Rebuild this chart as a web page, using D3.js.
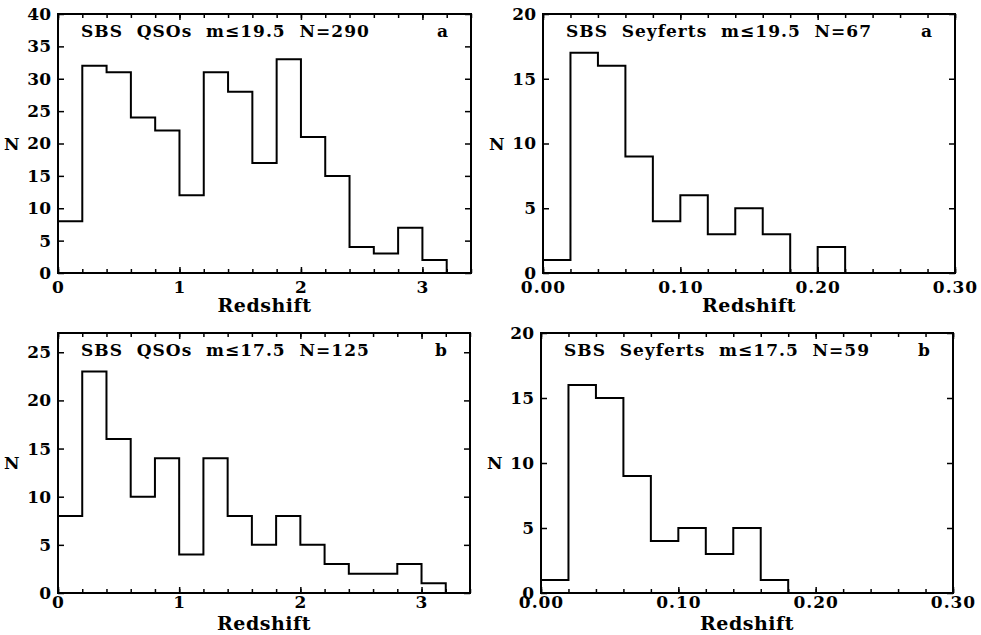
<!DOCTYPE html>
<html>
<head>
<meta charset="utf-8">
<script src="https://cdn.jsdelivr.net/npm/d3@7"></script>
<style>
  body { margin: 0; background: #fff; }
  svg { display: block; }
  text { font-family: "DejaVu Serif", "Liberation Serif", serif; font-weight: bold; fill: #000; }
  .domain { display: none; }
  .tick line { stroke: #000; stroke-width: 1.5; }
</style>
</head>
<body>
<svg width="981" height="635"></svg>
<script>
// bin counts (bins of 0.2 in z for QSOs, 0.02 for Seyferts)
var qsoBinWidth = 0.2;
var seyBinWidth = 0.02;
var qso195 = [8, 32, 31, 24, 22, 12, 31, 28, 17, 33, 21, 15, 4, 3, 7, 2];
var qso175 = [8, 23, 16, 10, 14, 4, 14, 8, 5, 8, 5, 3, 2, 2, 3, 1];
var sey195 = [1, 17, 16, 9, 4, 6, 3, 5, 3, 0, 2];
var sey175 = [1, 16, 15, 9, 4, 5, 3, 5, 1];

var qsoXTicks = [0, 1, 2, 3];
var seyXTicks = [0, 0.1, 0.2, 0.3];

var titles = ["SBS  QSOs  m\u226419.5  N=290", "SBS  Seyferts  m\u226419.5  N=67",
              "SBS  QSOs  m\u226417.5  N=125", "SBS  Seyferts  m\u226417.5  N=59"];
var tags = ["a", "a", "b", "b"];

var svg = d3.select("svg");

var panels = [
  {counts: qso195, bw: qsoBinWidth, xmax: 3.4, ymax: 40, xt: qsoXTicks, fmt: d3.format("d"), minor: 0.2,
   l: 58, r: 471, t: 14, b: 273, pad: 8, lab: 39, title: titles[0], tag: tags[0]},
  {counts: sey195, bw: seyBinWidth, xmax: 0.30, ymax: 20, xt: seyXTicks, fmt: d3.format(".2f"), minor: 0.02,
   l: 543, r: 955, t: 14, b: 273, pad: 8, lab: 39, title: titles[1], tag: tags[1]},
  {counts: qso175, bw: qsoBinWidth, xmax: 3.4, ymax: 27, xt: qsoXTicks, fmt: d3.format("d"), minor: 0.2,
   l: 58, r: 470, t: 333, b: 593, pad: 3, lab: 37, title: titles[2], tag: tags[2]},
  {counts: sey175, bw: seyBinWidth, xmax: 0.30, ymax: 20, xt: seyXTicks, fmt: d3.format(".2f"), minor: 0.02,
   l: 541, r: 953, t: 333, b: 593, pad: 3, lab: 37, title: titles[3], tag: tags[3]}
];

panels.forEach(function(p){
  var x = d3.scaleLinear().domain([0, p.xmax]).range([p.l, p.r]);
  var y = d3.scaleLinear().domain([0, p.ymax]).range([p.b, p.t]);
  var yt = d3.range(0, p.ymax + 0.001, 5);
  var mt = d3.range(0, p.xmax + 1e-9, p.minor);
  var g = svg.append("g");

  // minor ticks top and bottom
  g.append("g").attr("transform", "translate(0," + p.b + ")")
    .call(d3.axisBottom(x).tickValues(mt).tickSize(-4).tickFormat(""));
  g.append("g").attr("transform", "translate(0," + p.t + ")")
    .call(d3.axisTop(x).tickValues(mt).tickSize(-4).tickFormat(""));
  // major x ticks with labels
  var xa = g.append("g").attr("transform", "translate(0," + p.b + ")")
    .call(d3.axisBottom(x).tickValues(p.xt).tickSize(-6).tickPadding(p.pad).tickFormat(p.fmt));
  xa.selectAll("text").style("font-size", "17px").style("letter-spacing", "1px");
  g.append("g").attr("transform", "translate(0," + p.t + ")")
    .call(d3.axisTop(x).tickValues(p.xt).tickSize(-6).tickFormat(""));

  // y ticks left (labelled) and right
  var ya = g.append("g").attr("transform", "translate(" + p.l + ",0)")
    .call(d3.axisLeft(y).tickValues(yt).tickSize(-6).tickPadding(7).tickFormat(d3.format("d")));
  ya.selectAll("text").style("font-size", "17px");
  g.append("g").attr("transform", "translate(" + p.r + ",0)")
    .call(d3.axisRight(y).tickValues(yt).tickSize(-6).tickFormat(""));

  // histogram step outline
  var pts = [[0, 0]];
  p.counts.forEach(function(c, i){
    pts.push([i * p.bw, c]);
    pts.push([(i + 1) * p.bw, c]);
  });
  pts.push([p.counts.length * p.bw, 0]);
  g.append("path")
    .attr("d", d3.line().x(function(d){ return x(d[0]); }).y(function(d){ return y(d[1]); })(pts))
    .attr("fill", "none").attr("stroke", "#000").attr("stroke-width", 2);

  // frame
  g.append("rect").attr("x", p.l).attr("y", p.t).attr("width", p.r - p.l).attr("height", p.b - p.t)
    .attr("fill", "none").attr("stroke", "#000").attr("stroke-width", 2);

  // title and panel tag
  g.append("text").attr("x", p.l + 23).attr("y", p.t + 23).style("font-size", "17px")
    .style("letter-spacing", "1px").style("white-space", "pre").text(p.title);
  g.append("text").attr("x", p.r - 23).attr("y", p.t + 23).attr("text-anchor", "end")
    .style("font-size", "17px").text(p.tag);

  // axis titles
  g.append("text").attr("x", (p.l + p.r) / 2).attr("y", p.b + p.lab).attr("text-anchor", "middle")
    .style("font-size", "19px").style("letter-spacing", "0.5px").text("Redshift");
  g.append("text").attr("x", p.l - 54).attr("y", (p.t + p.b) / 2 + 6).style("font-size", "17px").text("N");
});
</script>
</body>
</html>
